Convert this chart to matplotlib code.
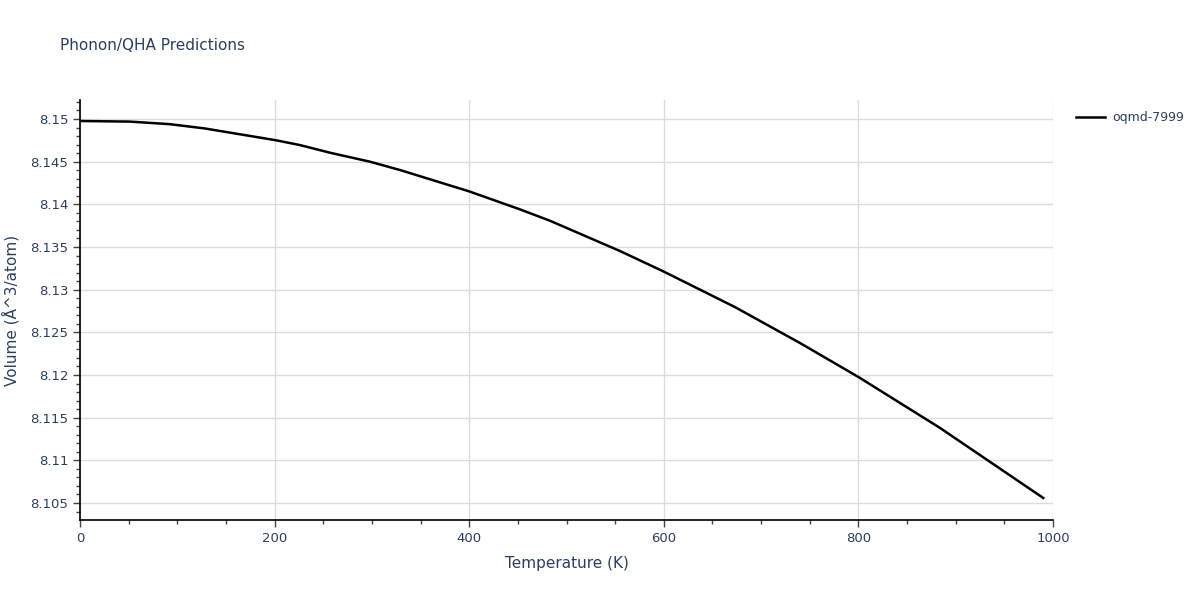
import matplotlib.pyplot as plt
from matplotlib.ticker import MultipleLocator, FormatStrFormatter

temperature = [0, 51, 92, 128, 200, 226, 257, 298, 329, 400, 452, 483, 555, 600, 673, 740, 800, 884, 990]
volume = [8.14977, 8.1497, 8.1494, 8.1489, 8.14754, 8.14695, 8.14605, 8.145, 8.14402, 8.14152,
          8.13942, 8.13808, 8.13453, 8.13212, 8.12797, 8.12375, 8.11977, 8.11379, 8.10559]
series_name = "oqmd-7999"

text_color = "#2a3f5f"
grid_color = "#dcdcdc"

fig = plt.figure(figsize=(12, 6), dpi=100)
ax = fig.add_axes([80 / 1200, 80 / 600, 973 / 1200, 420 / 600])

ax.plot(temperature, volume, color="black", linewidth=1.8, label=series_name)

ax.set_xlim(0, 1000)
ax.set_ylim(8.10301, 8.15223)
ax.xaxis.set_major_locator(MultipleLocator(200))
ax.xaxis.set_minor_locator(MultipleLocator(50))
ax.yaxis.set_major_locator(MultipleLocator(0.005))
ax.yaxis.set_minor_locator(MultipleLocator(0.001))
ax.yaxis.set_major_formatter(FormatStrFormatter("%g"))
ax.xaxis.set_major_formatter(FormatStrFormatter("%g"))

ax.grid(True, which="major", color=grid_color, linewidth=1)
ax.set_axisbelow(True)
for side in ["top", "right"]:
    ax.spines[side].set_visible(False)
for side in ["left", "bottom"]:
    ax.spines[side].set_color("black")
    ax.spines[side].set_linewidth(1.2)

ax.tick_params(which="major", direction="out", length=5, width=1, colors="#444444",
               labelcolor=text_color, labelsize=9.5)
ax.tick_params(which="minor", direction="out", length=3, width=1, colors="#444444")

ax.set_xlabel("Temperature (K)", color=text_color, fontsize=11, labelpad=8)
ax.set_ylabel("Volume (Å^3/atom)", color=text_color, fontsize=11, labelpad=8)

fig.text(60 / 1200, 1 - 45 / 600, "Phonon/QHA Predictions", color=text_color,
         fontsize=11, va="center", ha="left")

ax.legend(loc="upper left", bbox_to_anchor=(1.012, 1.0), frameon=False,
          fontsize=9, labelcolor=text_color, handlelength=2.3, handletextpad=0.6)

fig.savefig("out.png", dpi=100)
